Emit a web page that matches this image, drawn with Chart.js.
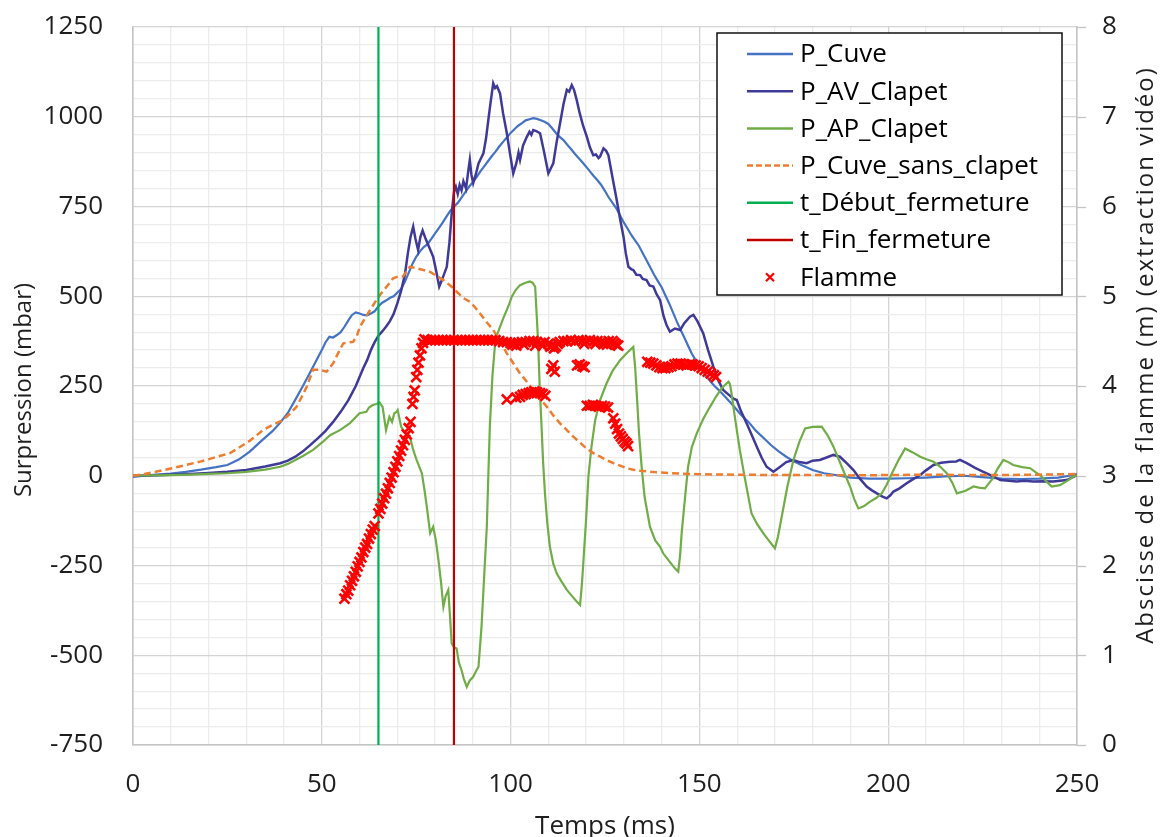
<!DOCTYPE html>
<html lang="fr">

<head>
    <meta charset="utf-8">
    <title>Surpression et abscisse de la flamme</title>

    <!-- Chart.js -->
    <script src="https://cdn.jsdelivr.net/npm/chart.js@4.4.1/dist/chart.umd.min.js"></script>

    <style>
        html,
        body {
            margin: 0;
            padding: 0;
            background-color: #ffffff;
        }

        canvas {
            display: block;
        }
    </style>
</head>

<body>
    <canvas id="myChart" width="1160" height="837"></canvas>
</body>

<script>
    // P_Cuve : temps (ms) / surpression (mbar)
    var cuveT = [0, 3, 6, 10, 14, 18, 22, 25, 28, 31, 34, 37, 39, 41, 43, 45, 47, 49,
        50, 51, 52, 53, 54, 55, 56, 57, 58, 59, 60, 61, 62, 63, 64, 65, 66, 67, 68, 69,
        70, 71, 72, 73, 74, 75, 76, 77, 78, 79, 80, 81, 82, 83, 84, 85, 86, 87, 88, 89,
        90, 91, 92, 93, 94, 95, 96, 97, 98, 99, 100, 101, 102, 103, 104, 105, 106, 107, 108, 109,
        110, 111, 112, 113, 114, 115, 116, 117, 118, 119, 120, 121, 122, 123, 124, 125, 126, 127, 128, 129,
        130, 131, 132, 133, 134, 135, 136, 137, 138, 139, 140, 141, 142, 143, 144, 145, 146, 147, 148, 149,
        150, 151, 152, 153, 154, 155, 157, 159, 161, 163, 165, 167, 169, 171, 173, 175, 177,
        180, 183, 186, 190, 195, 200, 205, 210, 215, 220, 225, 230, 235, 240, 245, 248, 250];
    var cuveP = [-3, 0, 3, 6, 11, 17, 24, 30, 45, 68, 97, 125, 148, 175, 212, 250, 290, 330,
        350, 372, 387, 385, 392, 400, 415, 432, 448, 455, 452, 448, 447, 452, 458, 472, 482, 488, 495, 500,
        510, 520, 540, 565, 590, 610, 625, 637, 645, 660, 675, 690, 705, 722, 738, 750, 760, 775, 790, 805,
        818, 832, 848, 862, 876, 890, 903, 917, 930, 942, 955, 965, 975, 982, 990, 993, 996, 994, 990, 986,
        980, 968, 955, 944, 935, 922, 910, 897, 885, 873, 861, 848, 835, 823, 810, 793, 775, 760, 745, 725,
        705, 688, 670, 655, 640, 620, 600, 580, 560, 542, 525, 502, 480, 455, 430, 407, 385, 362, 340, 322,
        305, 290, 275, 262, 250, 240, 218, 195, 170, 150, 125, 105, 85, 68, 53, 40, 30,
        16, 7, 2, -5, -8, -8, -7, -5, -2, 0, -4, -8, -9, -8, -5, 0, 5];

    // P_AV_Clapet
    var avT = [0, 5, 10, 15, 20, 25, 30, 35, 39, 41,
        43, 45, 47, 49, 51, 53, 55, 57, 59, 61,
        62, 63, 64, 65, 66, 67, 68, 69, 70, 71,
        72, 72.8, 73.5, 74.2, 74.8, 75.5, 76.1, 76.7, 77.5, 78.5,
        79.5, 80.3, 81.1, 81.8, 83.1, 83.8, 84.4, 85.0, 85.5, 86.0,
        86.5, 87.0, 87.5, 88.2, 88.8, 89.2, 89.6, 90.1, 90.8, 91.5,
        92.2, 92.8, 93.5, 94.1, 94.7, 95.4, 95.9, 96.4, 97.2, 98.0,
        99.0, 99.8, 100.7, 101.5, 102.1, 102.5, 103.3, 104.3, 105.0, 105.5,
        106.0, 106.8, 107.8, 108.8, 110.0, 110.6, 111.3, 112.2, 113.1, 114.0,
        114.9, 115.5, 116.2, 116.8, 117.5, 118.3, 119.2, 120.2, 121.0, 121.9,
        122.6, 123.3, 123.7, 124.6, 125.3, 125.9, 127.0, 128.1, 129.0, 129.9,
        130.5, 131.2, 132.0, 132.5, 133.3, 134.3, 135.0, 136.0, 136.8, 137.8,
        138.7, 139.6, 140.5, 141.3, 142.2, 143.5, 144.9, 146.0, 147.5, 148.4,
        149.5, 151.0, 152.3, 153.7, 155.0, 156.3, 157.5, 159.0, 159.9, 161.0,
        162.5, 164.0, 165.2, 166.5, 167.8, 169.6, 171.4, 173.0, 174.9, 176.5,
        178.4, 180.0, 181.9, 183.5, 185.5, 187.2, 189.0, 190.8, 192.5, 194.3,
        195.6, 197.0, 198.5, 199.6, 200.5, 201.4, 203.0, 204.9, 206.5, 208.5,
        210.0, 212.0, 214.0, 216.4, 218.0, 219.0, 220.8, 223.0, 225.2, 227.5,
        229.7, 232.0, 234.0, 236.0, 238.4, 241.0, 243.7, 245.5, 247.3, 250.0];
    var avP = [0, 1, 3, 5, 8, 11, 16, 26, 35, 42,
        53, 68, 86, 105, 125, 150, 178, 210, 250, 300,
        322, 350, 372, 390, 402, 415, 430, 450, 480, 515,
        560, 620, 665, 694, 660, 629, 665, 683, 660, 635,
        610, 570, 527, 545, 582, 650, 731, 790, 805, 785,
        810, 795, 820, 800, 850, 880, 840, 815, 840, 870,
        885, 898, 940, 991, 1040, 1093, 1080, 1085, 1065, 1010,
        954, 900, 842, 870, 900, 880, 920, 944, 958, 950,
        963, 960, 954, 905, 842, 855, 870, 930, 982, 1035,
        1075, 1070, 1088, 1075, 1047, 1010, 975, 944, 915, 893,
        895, 885, 889, 912, 905, 893, 830, 768, 715, 666,
        620, 582, 575, 573, 560, 559, 548, 545, 530, 527,
        505, 489, 445, 420, 401, 410, 406, 425, 443, 448,
        430, 397, 350, 304, 265, 239, 228, 215, 211, 180,
        146, 110, 81, 50, 25, 11, 25, 38, 44, 38,
        35, 42, 44, 50, 58, 53, 35, 16, -8, -30,
        -40, -49, -58, -63, -55, -44, -35, -21, -10, 2,
        15, 30, 36, 39, 40, 44, 35, 22, 11, 0,
        -12, -14, -16, -14, -16, -15, -16, -14, -12, 2];

    // P_AP_Clapet
    var apT = [0, 5, 10, 15, 20, 25, 30, 35, 39, 41,
        43, 45, 47.7, 50, 52.2, 54.8, 57.4, 60, 61.8, 62.5,
        63.5, 64.5, 65.3, 66.1, 67, 67.9, 68.6, 69.2, 69.8, 70.1,
        71.0, 72.0, 73.3, 74.2, 75.1, 76.5, 77.2, 77.8, 78.7, 79.5,
        80.2, 80.9, 81.6, 82.2, 82.8, 83.5, 84.0, 84.4, 85.0, 85.7,
        86.3, 87.0, 87.6, 88.4, 89.2, 90.1, 90.8, 91.5, 92.3, 93.0,
        93.7, 94.1, 94.5, 95.2, 95.9, 96.5, 97.2, 98.1, 99.0, 99.7,
        100.3, 101.4, 102.5, 103.8, 105.1, 105.8, 106.5, 106.9, 107.3, 107.7,
        108.2, 108.6, 109.1, 109.7, 110.4, 111.3, 112.2, 113.5, 114.9, 116.5,
        117.5, 118.4, 118.9, 119.3, 120.0, 120.6, 121.4, 122.4, 123.7, 125.4,
        127.0, 129.0, 130.8, 132.5, 133.0, 133.4, 134.0, 134.7, 135.5, 136.9,
        138.3, 139.6, 140.4, 142.0, 143.5, 144.4, 144.9, 145.3, 146.2, 147.0,
        148.0, 149.3, 151.0, 152.8, 154.5, 156.0, 157.7, 158.1, 158.5, 159.3,
        160.0, 160.7, 162.0, 163.8, 165.3, 166.9, 168.5, 170.0, 170.8, 171.8,
        173.3, 174.9, 176.5, 178.0, 180.0, 182.4, 184.0, 185.5, 187.5, 189.9,
        191.0, 192.1, 193.5, 195.2, 196.8, 198.3, 199.6, 201.0, 202.8, 204.5,
        206.5, 208.5, 210.3, 212.0, 213.8, 215.5, 217.0, 218.2, 220.5, 222.6,
        224.0, 225.6, 227.5, 229.0, 230.5, 231.8, 233.1, 235.5, 237.6, 239.0,
        240.2, 241.8, 243.3, 245.5, 247.3, 249.0, 250.0];
    var apP = [0, 1, 2, 3, 5, 7, 11, 17, 25, 33,
        44, 55, 72, 92, 113, 127, 146, 174, 178, 190,
        197, 200, 204, 192, 127, 164, 150, 174, 178, 183,
        137, 120, 110, 72, 44, 7, -40, -86, -160, -142,
        -180, -235, -300, -365, -335, -318, -400, -467, -478, -481,
        -520, -541, -565, -588, -570, -560, -545, -532, -420, -280,
        -142, 0, 137, 280, 369, 395, 415, 440, 462, 480,
        499, 518, 531, 537, 541, 538, 527, 450, 369, 250,
        137, 40, -49, -130, -198, -245, -272, -295, -318, -338,
        -350, -360, -300, -235, -120, -3, 80, 155, 211, 257,
        292, 322, 342, 359, 300, 230, 120, 25, -60, -142,
        -180, -198, -216, -238, -258, -267, -220, -160, -60, 25,
        80, 118, 158, 192, 222, 245, 262, 255, 230, 170,
        120, 72, -5, -105, -135, -160, -182, -202, -170, -114,
        -30, 44, 95, 132, 136, 137, 112, 81, 30, -30,
        -65, -91, -85, -72, -62, -49, -25, 7, 45, 76,
        65, 53, 45, 39, 25, 7, -20, -49, -42, -30,
        -33, -35, -10, 20, 44, 38, 30, 24, 21, 10,
        2, -15, -30, -26, -15, -3, 2];

    // P_Cuve_sans_clapet
    var sansT = [0, 3, 6, 10, 14, 18, 22, 25.7, 28, 31,
        34.4, 37, 39.7, 41.5, 43.3, 44.7, 46, 47.7, 49.5, 51.3,
        53, 54.5, 55.7, 58.3, 59.3, 60.1, 61.5, 62.8, 64.5, 65.5,
        67.2, 68.9, 70.2, 71.5, 72.5, 73.3, 75.1, 76.9, 78.7, 80.5,
        82.2, 84, 85.7, 87.5, 89.2, 90.5, 91.9, 93.5, 95.4, 97.2,
        99, 100.8, 102.5, 104.3, 106, 107.8, 109.6, 111.3, 113.1, 114.9,
        116.6, 118.4, 120.1, 121.9, 123.7, 125.5, 127.2, 129, 130.7, 132.5,
        134.3, 137, 139.6, 145, 150, 160, 170, 180, 190, 200,
        210, 220, 230, 240, 250];
    var sansP = [0, 5, 11, 20, 30, 40, 52, 63, 78, 98,
        127, 142, 155, 172, 192, 220, 248, 295, 295, 290,
        313, 345, 369, 373, 390, 415, 440, 462, 490, 505,
        527, 550, 555, 555, 570, 582, 578, 573, 568, 556,
        545, 530, 513, 495, 485, 470, 452, 430, 406, 375,
        341, 312, 285, 262, 239, 215, 192, 168, 146, 127,
        109, 92, 76, 63, 53, 43, 35, 28, 21, 17,
        14, 11, 9, 6, 4, 3, 2, 2, 1, 2,
        3, 2, 2, 3, 5];

    // instants de fermeture du clapet (ms)
    var debutT = 65;
    var finT = 85;

    // Flamme : temps (ms) / abscisse (m)
    var flameT = [56.0, 56.5, 57.0, 57.5, 58.0, 58.5, 59.0, 59.5, 60.0, 60.5, 61.0, 61.5, 62.0, 62.5, 63.0, 63.5, 64.0,
        65.0, 65.5, 66.0, 66.5, 67.0, 67.5, 68.0, 68.5, 69.0, 69.5, 70.0, 70.5, 71.0, 71.5, 72.0, 72.5, 73.0, 73.5,
        74.0, 74.3, 74.6, 75.0, 75.3, 75.6, 76.0, 76.4, 76.8, 77.2,
        78, 79, 80, 81, 82, 83, 84, 85, 86, 87, 88, 89, 90, 91, 92, 93, 94, 95, 96,
        97, 98, 99, 100, 100.5, 101, 101.5, 102, 103, 103.5, 104, 105, 106, 106.5, 107, 108, 108.5, 109,
        110, 110.5, 111, 111.5, 112, 112.5, 113, 114, 115, 116, 117, 118, 119, 119.5, 120, 121, 122, 122.5,
        123, 124, 124.5, 125, 125.5, 126, 127, 127.5, 128, 128.5,
        99.0, 101.5, 102.5, 103.2, 104, 104.8, 105.5, 106.3, 107, 107.8, 108.5, 109.2,
        110.8, 111.3, 111.7, 117.6, 118.3, 119, 119.6,
        120.2, 121, 121.8, 122.6, 123.4, 124.2, 125, 125.8,
        127.2, 127.7, 128.2, 128.7, 129.2, 129.7, 130.2, 130.7, 131.1,
        136.2, 137, 137.8, 138.6, 139.4, 140.2, 141, 141.8, 142.6, 143.4, 144.2, 145,
        145.8, 146.6, 147.4, 148.2, 149, 149.8, 150.6, 151.4, 152.2, 153, 153.8, 154.4];
    var flameX = [1.63, 1.68, 1.72, 1.78, 1.83, 1.88, 1.93, 1.99, 2.04, 2.09, 2.15, 2.20, 2.24, 2.30, 2.35, 2.40, 2.44,
        2.58, 2.63, 2.69, 2.75, 2.80, 2.86, 2.92, 2.98, 3.04, 3.10, 3.16, 3.22, 3.28, 3.34, 3.40, 3.46, 3.53, 3.60,
        3.80, 3.88, 3.95, 4.10, 4.18, 4.26, 4.34, 4.42, 4.48, 4.52,
        4.51, 4.51, 4.51, 4.51, 4.51, 4.51, 4.51, 4.51, 4.51, 4.51, 4.51, 4.51, 4.51, 4.51, 4.51, 4.51, 4.51, 4.51, 4.51,
        4.50, 4.49, 4.49, 4.48, 4.46, 4.47, 4.45, 4.48, 4.49, 4.46, 4.49, 4.50, 4.50, 4.45, 4.49, 4.48, 4.45, 4.49,
        4.47, 4.44, 4.45, 4.42, 4.44, 4.47, 4.49, 4.50, 4.50, 4.51, 4.50, 4.51, 4.50, 4.47, 4.50, 4.51, 4.50, 4.47,
        4.50, 4.49, 4.47, 4.48, 4.46, 4.50, 4.50, 4.48, 4.46, 4.45,
        3.85, 3.87, 3.88, 3.90, 3.91, 3.92, 3.93, 3.94, 3.93, 3.92, 3.91, 3.89,
        4.19, 4.23, 4.16, 4.23, 4.24, 4.22, 4.21,
        3.78, 3.78, 3.79, 3.78, 3.77, 3.78, 3.77, 3.76,
        3.64, 3.58, 3.52, 3.47, 3.44, 3.41, 3.38, 3.36, 3.33,
        4.27, 4.26, 4.25, 4.23, 4.21, 4.20, 4.20, 4.21, 4.22, 4.24, 4.25, 4.25,
        4.24, 4.23, 4.24, 4.24, 4.23, 4.22, 4.20, 4.18, 4.16, 4.14, 4.12, 4.10];

    // axes
    var xMin = 0, xMax = 250, xMajor = 50, xMinor = 10;
    var yMin = -750, yMax = 1250, yMajor = 250, yMinor = 50;
    var y2Min = 0, y2Max = 8;
    var xTitle = "Temps (ms)";
    var yTitle = "Surpression (mbar)";
    var y2Title = "Abscisse de la flamme (m) (extraction vidéo)";

    var majorGrid = '#d4d4d4';
    var minorGrid = '#ececec';
    var axisColor = '#c4c4c4';
    var textColor = '#1e1e1e';
    var tickFont = { family: 'Open Sans', size: 26 };

    let toPoints = (xs, ys) => xs.map((x, i) => ({ x: x, y: ys[i] }));

    let lineSet = (label, xs, ys, color, width, order, dash) => ({
        label: label,
        data: toPoints(xs, ys),
        showLine: true,
        borderColor: color,
        backgroundColor: color,
        borderWidth: width,
        borderDash: dash || [],
        pointRadius: 0,
        tension: 0,
        yAxisID: 'y',
        order: order
    });

    // titres des axes, graduations de droite et légende
    let decorPlugin = {
        id: 'decor',
        afterDraw: (chart) => {
            let ctx = chart.ctx;
            let area = chart.chartArea;
            let y1 = chart.scales.y1;
            ctx.save();

            // petites graduations de l'axe secondaire
            ctx.strokeStyle = axisColor;
            ctx.lineWidth = 1.3;
            y1.ticks.forEach((t) => {
                let py = Math.round(y1.getPixelForValue(t.value)) + 0.5;
                ctx.beginPath();
                ctx.moveTo(area.right, py);
                ctx.lineTo(area.right + 9, py);
                ctx.stroke();
            });

            ctx.fillStyle = textColor;
            ctx.textAlign = 'center';
            ctx.textBaseline = 'alphabetic';

            ctx.font = '26px "Open Sans"';
            ctx.fillText(xTitle, (area.left + area.right) / 2, 834);

            ctx.font = '24px "Open Sans"';
            ctx.save();
            ctx.translate(31, 390);
            ctx.rotate(-Math.PI / 2);
            ctx.fillText(yTitle, 0, 0);
            ctx.restore();

            ctx.save();
            ctx.translate(1153, 355);
            ctx.rotate(-Math.PI / 2);
            ctx.letterSpacing = '2px';
            ctx.fillText(y2Title, 0, 0);
            ctx.restore();

            // légende
            let bx = 717, by = 33, bw = 345, bh = 262;
            ctx.fillStyle = '#ffffff';
            ctx.fillRect(bx, by, bw, bh);
            ctx.strokeStyle = '#111111';
            ctx.lineWidth = 1.5;
            ctx.strokeRect(bx, by, bw, bh);

            ctx.font = '26px "Open Sans"';
            ctx.textAlign = 'left';
            ctx.textBaseline = 'middle';
            chart.data.datasets.forEach((ds, i) => {
                let cy = by + 21 + i * 37.2;
                if (ds.showLine) {
                    ctx.strokeStyle = ds.borderColor;
                    ctx.lineWidth = 2.5;
                    ctx.setLineDash(ds.borderDash.length ? [6, 3] : []);
                    ctx.beginPath();
                    ctx.moveTo(747, cy);
                    ctx.lineTo(793, cy);
                    ctx.stroke();
                    ctx.setLineDash([]);
                } else {
                    ctx.strokeStyle = ds.borderColor;
                    ctx.lineWidth = 2.2;
                    ctx.beginPath();
                    ctx.moveTo(766, cy - 4);
                    ctx.lineTo(774, cy + 4);
                    ctx.moveTo(774, cy - 4);
                    ctx.lineTo(766, cy + 4);
                    ctx.stroke();
                }
                ctx.fillStyle = '#000000';
                ctx.fillText(ds.label, 800, cy + 1);
            });
            ctx.restore();
        }
    };

    let showChart = () => {
        new Chart(document.getElementById('myChart'), {
            type: 'scatter',
            data: {
                datasets: [
                    lineSet('P_Cuve', cuveT, cuveP, '#4472c4', 2.2, 7),
                    lineSet('P_AV_Clapet', avT, avP, '#3f3a98', 2.5, 6),
                    lineSet('P_AP_Clapet', apT, apP, '#70ad47', 2.2, 5),
                    lineSet('P_Cuve_sans_clapet', sansT, sansP, '#ed7d31', 2.5, 4, [7, 4]),
                    lineSet('t_Début_fermeture', [debutT, debutT], [yMin, yMax], '#00b050', 2.2, 3),
                    lineSet('t_Fin_fermeture', [finT, finT], [yMin, yMax], '#c00000', 2.2, 2),
                    {
                        label: 'Flamme',
                        data: toPoints(flameT, flameX),
                        showLine: false,
                        pointStyle: 'crossRot',
                        pointRadius: 7,
                        pointBorderWidth: 2.6,
                        borderColor: '#ff0000',
                        backgroundColor: '#ff0000',
                        yAxisID: 'y1',
                        order: 1
                    }
                ]
            },
            options: {
                responsive: false,
                animation: false,
                devicePixelRatio: 1,
                layout: { padding: { top: 27, left: 0, right: 0, bottom: 0 } },
                plugins: {
                    legend: { display: false },
                    tooltip: { enabled: false }
                },
                scales: {
                    x: {
                        type: 'linear',
                        min: xMin,
                        max: xMax,
                        afterFit: (s) => { s.height = 92; },
                        ticks: {
                            stepSize: xMinor,
                            autoSkip: false,
                            maxRotation: 0,
                            padding: 24,
                            color: textColor,
                            font: tickFont,
                            callback: (v) => v % xMajor === 0 ? v : ''
                        },
                        grid: {
                            drawTicks: false,
                            lineWidth: 1.3,
                            color: (c) => (c.tick && c.tick.value % xMajor === 0) ? majorGrid : minorGrid
                        },
                        border: { display: true, color: axisColor, width: 1.5 }
                    },
                    y: {
                        type: 'linear',
                        position: 'left',
                        min: yMin,
                        max: yMax,
                        afterFit: (s) => { s.width = 133; },
                        ticks: {
                            stepSize: yMinor,
                            autoSkip: false,
                            padding: 0,
                            color: textColor,
                            font: tickFont,
                            callback: (v) => v % yMajor === 0 ? v : ''
                        },
                        grid: {
                            drawTicks: true,
                            tickLength: 30,
                            tickColor: 'rgba(0,0,0,0)',
                            lineWidth: 1.3,
                            color: (c) => (c.tick && c.tick.value % yMajor === 0) ? majorGrid : minorGrid
                        },
                        border: { display: true, color: axisColor, width: 1.5 }
                    },
                    y1: {
                        type: 'linear',
                        position: 'right',
                        min: y2Min,
                        max: y2Max,
                        afterFit: (s) => { s.width = 83; },
                        ticks: {
                            stepSize: 1,
                            padding: 0,
                            color: textColor,
                            font: tickFont
                        },
                        grid: {
                            drawOnChartArea: false,
                            drawTicks: true,
                            tickLength: 25,
                            tickColor: 'rgba(0,0,0,0)'
                        },
                        border: { display: true, color: axisColor, width: 1.5 }
                    }
                }
            },
            plugins: [decorPlugin]
        });
    };

    showChart();
</script>

</html>
